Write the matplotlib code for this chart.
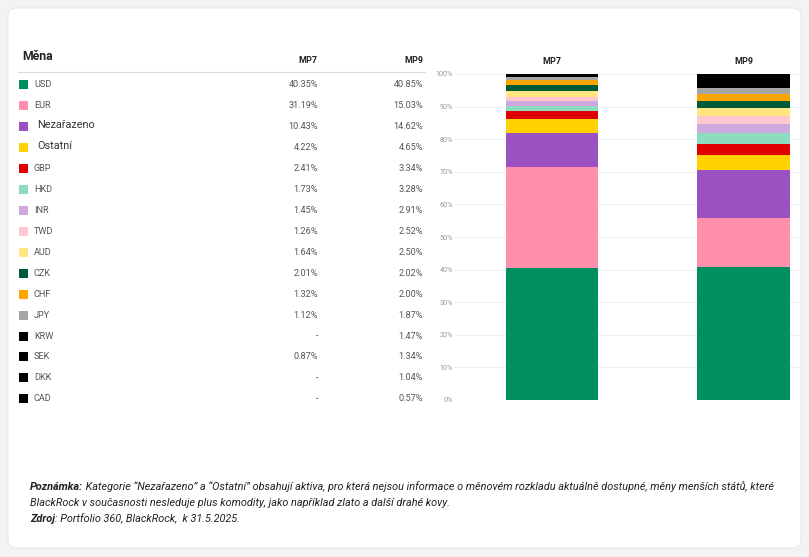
import matplotlib.pyplot as plt
from matplotlib.patches import FancyBboxPatch, Rectangle
import numpy as np

plt.rcParams['font.family'] = ['Roboto', 'DejaVu Sans']

# data
currencies = ['USD', 'EUR', 'Nezařazeno', 'Ostatní', 'GBP', 'HKD', 'INR', 'TWD',
              'AUD', 'CZK', 'CHF', 'JPY', 'KRW', 'SEK', 'DKK', 'CAD']
mp7 = [40.35, 31.19, 10.43, 4.22, 2.41, 1.73, 1.45, 1.26,
       1.64, 2.01, 1.32, 1.12, None, 0.87, None, None]
mp9 = [40.85, 15.03, 14.62, 4.65, 3.34, 3.28, 2.91, 2.52,
       2.50, 2.02, 2.00, 1.87, 1.47, 1.34, 1.04, 0.57]
colors = ['#009060', '#ff8fab', '#9b51bf', '#ffd200', '#e00000', '#8ddcbe',
          '#d0a8e0', '#ffc7cf', '#ffe680', '#005a3a', '#ffa500', '#a6a6a6',
          '#000000', '#000000', '#000000', '#000000']
portfolios = ['MP7', 'MP9']
yticks = [0, 10, 20, 30, 40, 50, 60, 70, 80, 90, 100]

W, H = 809, 557
fig = plt.figure(figsize=(W / 100, H / 100), dpi=100, facecolor='#f3f3f3')


def fx(x):
    return x / W


def fy(y):
    return 1 - y / H


# white card behind everything
card = FancyBboxPatch((fx(8), fy(548)), fx(793), (540) / H,
                      boxstyle='round,pad=0,rounding_size=0.012',
                      transform=fig.transFigure, facecolor='white',
                      edgecolor='#e8e8e8', linewidth=0.8, zorder=-10)
fig.patches.append(card)

# table
fig.text(fx(22), fy(57), 'Měna', fontsize=8.8, fontweight='bold',
         color='#222222', va='center')
fig.text(fx(317), fy(61), 'MP7', fontsize=6.5, fontweight='bold',
         color='#222222', va='center', ha='right')
fig.text(fx(423), fy(61), 'MP9', fontsize=6.5, fontweight='bold',
         color='#222222', va='center', ha='right')
fig.add_artist(plt.Line2D([fx(18), fx(425)], [fy(72), fy(72)],
                          color='#dddddd', linewidth=0.8))

row_y0, row_dy = 84.5, 20.96
for i, name in enumerate(currencies):
    y = row_y0 + i * row_dy
    fig.add_artist(Rectangle((fx(19), fy(y + 4.5)), 9 / W, 9 / H,
                             transform=fig.transFigure,
                             facecolor=colors[i], edgecolor='none', zorder=2))
    if name in ('Nezařazeno', 'Ostatní'):
        fig.text(fx(37), fy(y - 1), name, fontsize=7.8, color='#333333',
                 va='center')
    else:
        fig.text(fx(34), fy(y), name, fontsize=6.6, color='#555555',
                 va='center')
    v7 = '-' if mp7[i] is None else f'{mp7[i]:.2f}%'
    v9 = '-' if mp9[i] is None else f'{mp9[i]:.2f}%'
    fig.text(fx(318), fy(y), v7, fontsize=6.6, color='#555555',
             va='center', ha='right')
    fig.text(fx(423), fy(y), v9, fontsize=6.6, color='#555555',
             va='center', ha='right')

# stacked bars
ax = fig.add_axes([fx(455), fy(400), (801 - 455) / W, (400 - 74) / H])
ax.set_facecolor('none')
x = np.arange(len(portfolios))
bottoms = np.zeros(len(portfolios))
for i, name in enumerate(currencies):
    vals = np.array([mp7[i] or 0.0, mp9[i] or 0.0])
    ax.bar(x, vals, bottom=bottoms, width=0.484, color=colors[i],
           linewidth=0, zorder=3)
    bottoms += vals

ax.set_xlim(-0.507, 1.30)
ax.set_ylim(0, 100)
ax.set_yticks(yticks)
ax.set_yticklabels([f'{t}%' for t in yticks])
ax.tick_params(axis='y', length=0, pad=1.5, labelsize=5.2, labelcolor='#999999')
ax.xaxis.tick_top()
ax.set_xticks(x)
ax.set_xticklabels(portfolios, fontsize=6.5, fontweight='bold', color='#222222')
ax.tick_params(axis='x', length=0, pad=5.5)
ax.grid(axis='y', color='#eef1f3', linewidth=0.8, zorder=0)
for s in ax.spines.values():
    s.set_visible(False)

# footnote: bold lead word followed by italic text
note_fs = 7.8
renderer = fig.canvas.get_renderer()


def lead_line(y, bold, rest):
    b = fig.text(fx(30), fy(y), bold, fontsize=note_fs, style='italic',
                 fontweight='bold', va='center', color='#222222')
    x1 = b.get_window_extent(renderer).x1
    fig.text(x1 / W, fy(y), rest, fontsize=note_fs, style='italic',
             va='center', color='#222222')


lead_line(487, 'Poznámka:', ' Kategorie “Nezařazeno” a “Ostatní” obsahují aktiva, '
          'pro která nejsou informace o měnovém rozkladu aktuálně dostupné, '
          'měny menších států, které')
fig.text(fx(30), fy(503), 'BlackRock v současnosti nesleduje plus komodity, '
         'jako například zlato a další drahé kovy.', fontsize=note_fs,
         style='italic', va='center', color='#222222')
lead_line(519, 'Zdroj', ': Portfolio 360, BlackRock,  k 31.5.2025.')

fig.savefig('out.png', dpi=100, facecolor=fig.get_facecolor())
